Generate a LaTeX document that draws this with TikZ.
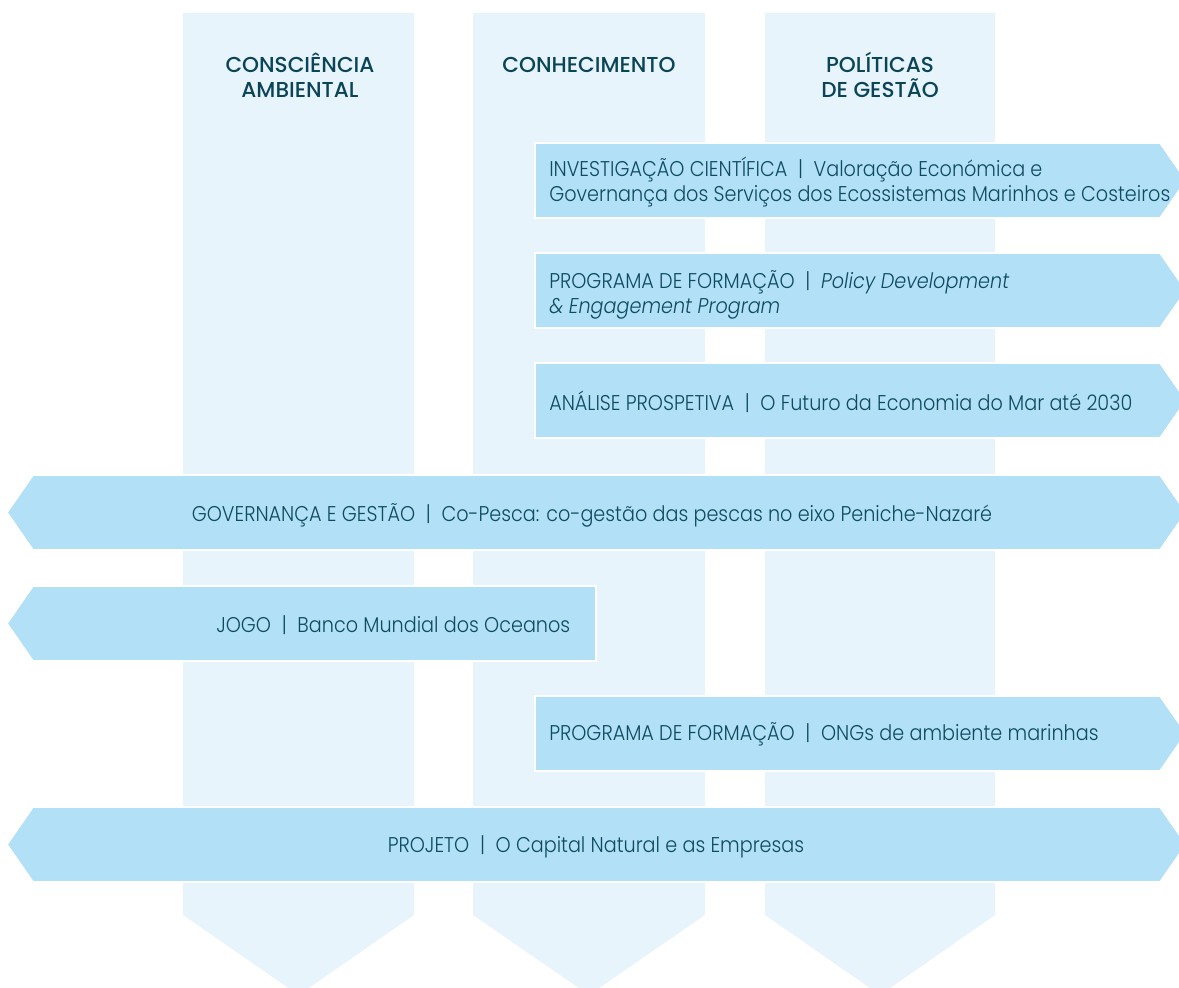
\documentclass[tikz,border=0pt]{standalone}
\usepackage{fontspec}
\setmainfont{Poppins}[UprightFont={* Light},ItalicFont={* Light Italic},FakeStretch=0.9]
\newfontfamily\headfont{Poppins}[UprightFont={* Medium}]
\definecolor{colfill}{HTML}{E7F4FC}
\definecolor{barfill}{HTML}{B1E0F7}
\definecolor{bodyink}{HTML}{0E4B5F}
\definecolor{headink}{HTML}{0A4457}
% wider spacing round the vertical separator
\newcommand{\vsep}{\hspace{0.5em}|\hspace{0.5em}}
\tikzset{
  column/.style={fill=colfill},
  bar/.style={fill=barfill,draw=white,line width=1.2pt},
  head/.style={font=\headfont\fontsize{16.2}{18}\selectfont,text=headink,inner sep=0pt,anchor=base},
  label/.style={font=\fontsize{16}{19}\selectfont,text=bodyink,inner sep=0pt,anchor=base west},
  mlabel/.style={label,anchor=base},
}
\begin{document}
\begin{tikzpicture}[x=0.75pt,y=-0.75pt]
\useasboundingbox (0,0) rectangle (1179,988);
\clip (0,0) rectangle (1179,988);
% three vertical arrows (columns)
\foreach \l/\r in {183/414,473/705,765/995}{
  \fill[column] (\l,13) -- (\r,13) -- (\r,915) -- ({(\l+\r)/2},995) -- (\l,915) -- cycle;
}
% right-pointing bars
\foreach \t in {143,253,363,696}{
  \path[bar] (535,\t) -- (1160,\t) -- (1186,\t+37.5) -- (1160,\t+75) -- (535,\t+75) -- cycle;
}
% bars pointing both ways
\foreach \t in {475,807}{
  \path[bar] (33,\t) -- (1160,\t) -- (1186,\t+37.5) -- (1160,\t+75) -- (33,\t+75) -- (7,\t+37.5) -- cycle;
}
% left-pointing bar
\path[bar] (33,586) -- (596,586) -- (596,661) -- (33,661) -- (7,623.5) -- cycle;

% column headings
\node[head] (h1a) at (300,73) {CONSCIÊNCIA};
\node[head] (h1b) at (300,98) {AMBIENTAL};
\node[head] (h2) at (589,73) {CONHECIMENTO};
\node[head] (h3a) at (880,73) {POLÍTICAS};
\node[head] (h3b) at (880,98) {DE GESTÃO};

% bar labels
\node[label] (b1a) at (549,177) {INVESTIGAÇÃO CIENTÍFICA\vsep Valoração Económica e};
\node[label] (b1b) at (549,202) {Governança dos Serviços dos Ecossistemas Marinhos e Costeiros};
\node[label] (b2a) at (549,288) {PROGRAMA DE FORMAÇÃO\vsep \textit{Policy Development}};
\node[label] (b2b) at (549,313) {\textit{\& Engagement Program}};
\node[label] (b3) at (549,410) {ANÁLISE PROSPETIVA\vsep O Futuro da Economia do Mar até 2030};
\node[mlabel] (b4) at (592,521) {GOVERNANÇA E GESTÃO\vsep Co-Pesca: co-gestão das pescas no eixo Peniche-Nazaré};
\node[label] (b5) at (216,632) {JOGO\vsep Banco Mundial dos Oceanos};
\node[label] (b6) at (549,740) {PROGRAMA DE FORMAÇÃO\vsep ONGs de ambiente marinhas};
\node[mlabel] (b7) at (596,852) {PROJETO\vsep O Capital Natural e as Empresas};
\end{tikzpicture}
\end{document}
